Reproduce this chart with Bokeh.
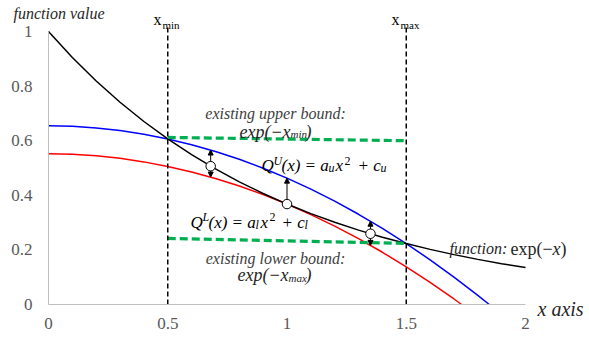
from bokeh.plotting import figure
from bokeh.models import Range1d, FixedTicker, Label, Arrow, NormalHead
from bokeh.embed import file_html
from bokeh.resources import INLINE

# ---------------- data ----------------
x_grid = [0.0, 0.1, 0.2, 0.3, 0.4, 0.5, 0.6, 0.7, 0.8, 0.9, 1.0,
          1.1, 1.2, 1.3, 1.4, 1.5, 1.6, 1.7, 1.8, 1.9, 2.0]
func_exp = [1.0, 0.9048, 0.8187, 0.7408, 0.6703, 0.6065, 0.5488, 0.4966, 0.4493, 0.4066, 0.3679,
            0.3329, 0.3012, 0.2725, 0.2466, 0.2231, 0.2019, 0.1827, 0.1653, 0.1496, 0.1353]

upper_q_x = [0.0, 0.1, 0.2, 0.3, 0.4, 0.5, 0.6, 0.7, 0.8, 0.9, 1.0,
             1.1, 1.2, 1.3, 1.4, 1.5, 1.6, 1.7, 1.8, 1.848]
upper_q_y = [0.6545, 0.6526, 0.6468, 0.6372, 0.6238, 0.6065, 0.5854, 0.5605, 0.5318, 0.4992, 0.4628,
             0.4225, 0.3784, 0.3305, 0.2787, 0.2231, 0.1637, 0.1004, 0.0334, 0.0]

lower_q_x = [0.0, 0.1, 0.2, 0.3, 0.4, 0.5, 0.6, 0.7, 0.8, 0.9, 1.0,
             1.1, 1.2, 1.3, 1.4, 1.5, 1.6, 1.7, 1.732]
lower_q_y = [0.5518, 0.5500, 0.5445, 0.5353, 0.5224, 0.5058, 0.4856, 0.4617, 0.4341, 0.4028, 0.3679,
             0.3293, 0.2870, 0.2410, 0.1913, 0.1380, 0.0809, 0.0202, 0.0]

bound_x = [0.5, 1.5]               # x_min, x_max
bound_line_top = 1.018
upper_bound_y = [0.612, 0.600]     # existing upper bound exp(-x_min)
lower_bound_y = [0.242, 0.224]     # existing lower bound exp(-x_max)

mark_x = [0.68, 1.0, 1.35]
mark_y = [0.5066, 0.3679, 0.2592]
arrow_up_y = [0.5658, 0.4628, 0.3051]
arrow_down_y = [0.4668, None, 0.2166]

x_ticks = [0, 0.5, 1, 1.5, 2]
x_tick_labels = ["0", "0.5", "1", "1.5", "2"]
y_ticks = [0, 0.2, 0.4, 0.6, 0.8, 1]
y_tick_labels = ["0", "0.2", "0.4", "0.6", "0.8", "1"]

# ---------------- figure ----------------
W, H = 589, 339
X0_PX, Y0_PX = 48, 304          # page position of the data origin
PX_PER_X = 238.5
PX_PER_Y = 273.0

p = figure(frame_width=W, frame_height=H,
           x_range=Range1d(-X0_PX / PX_PER_X, (W - X0_PX) / PX_PER_X),
           y_range=Range1d(-(H - Y0_PX) / PX_PER_Y, Y0_PX / PX_PER_Y),
           output_backend="svg", toolbar_location=None,
           min_border=0, min_border_left=0, min_border_right=0,
           min_border_top=0, min_border_bottom=0)
p.xgrid.visible = False
p.ygrid.visible = False
p.outline_line_color = None
p.background_fill_color = "white"
p.border_fill_color = "white"

SERIF = "Liberation Serif"
for ax in (p.xaxis[0], p.yaxis[0]):
    ax.fixed_location = 0
    ax.axis_line_color = "#bfbfbf"
    ax.axis_line_width = 1
    ax.major_tick_line_color = None
    ax.minor_tick_line_color = None
    ax.major_tick_out = 0
    ax.major_tick_in = 0
    ax.minor_tick_out = 0
    ax.minor_tick_in = 0
    ax.major_label_text_font = SERIF
    ax.major_label_text_font_size = "17px"
    ax.major_label_text_color = "#595959"

p.xaxis.ticker = FixedTicker(ticks=x_ticks)
p.xaxis.major_label_overrides = dict(zip(x_ticks, x_tick_labels))
p.xaxis.bounds = (x_ticks[0], x_ticks[-1])
p.xaxis.major_label_standoff = 13
p.yaxis.ticker = FixedTicker(ticks=y_ticks)
p.yaxis.major_label_overrides = dict(zip(y_ticks, y_tick_labels))
p.yaxis.bounds = (y_ticks[0], y_ticks[-1])
p.yaxis.major_label_standoff = 16

# curves
p.line(lower_q_x, lower_q_y, line_color="#ff0000", line_width=1.5)
p.line(upper_q_x, upper_q_y, line_color="#0000ff", line_width=1.5)
p.line(x_grid, func_exp, line_color="black", line_width=1.5)

# existing bounds
p.line(bound_x, upper_bound_y, line_color="#00b050", line_width=3.2, line_dash="8 4")
p.line(bound_x, lower_bound_y, line_color="#00b050", line_width=3.2, line_dash="8 4")

# x_min / x_max vertical dashed lines
p.segment(x0=bound_x, y0=[0, 0], x1=bound_x, y1=[bound_line_top] * 2,
          line_color="black", line_width=1.5, line_dash="5 3")

# arrows (start at the rim of the marker circle)
MARK_SIZE = 9.5
rim = (MARK_SIZE / 2) / PX_PER_Y
for xm, ym, yu, yd in zip(mark_x, mark_y, arrow_up_y, arrow_down_y):
    p.add_layout(Arrow(x_start=xm, y_start=ym + rim, x_end=xm, y_end=yu, line_color="black", line_width=1,
                       end=NormalHead(size=5, fill_color="black", line_color="black")))
    if yd is not None:
        p.add_layout(Arrow(x_start=xm, y_start=ym - rim, x_end=xm, y_end=yd, line_color="black", line_width=1,
                           end=NormalHead(size=5, fill_color="black", line_color="black")))

p.scatter(mark_x, mark_y, size=MARK_SIZE, fill_color="white", line_color="black", line_width=1)


# ---------------- texts ----------------
def lab(text, px, py, size, style="italic", align="left", color="#262626"):
    p.add_layout(Label(x=(px - X0_PX) / PX_PER_X, y=(Y0_PX - py) / PX_PER_Y, text=text,
                       text_font=SERIF, text_font_size=f"{size}px", text_font_style=style,
                       text_align=align, text_baseline="alphabetic", text_color=color))


lab("function value", 13, 13, 16)
lab("x axis", 537, 308, 20)

lab("x", 153, 19, 16, style="normal", color="black")
lab("min", 162, 24, 11, style="normal", color="black")
lab("x", 391, 19, 16, style="normal", color="black")
lab("max", 400, 24, 11, style="normal", color="black")

lab("existing upper bound:", 275, 112.7, 16, align="center", color="#404040")
lab("exp(\u2212x", 239, 131.7, 18, color="#262626")
lab("min", 290, 133.5, 11, color="#262626")
lab(")", 305, 131.7, 18, color="#262626")

lab("existing lower bound:", 275, 257.7, 16, align="center", color="#404040")
lab("exp(\u2212x", 237, 274.5, 18, color="#262626")
lab("max", 288, 277.5, 11, color="#262626")
lab(")", 305, 274.5, 18, color="#262626")

# Q^U(x) = a_u x^2 + c_u
lab("Q", 261, 165, 17, color="black")
lab("U", 273, 160.5, 12, color="black")
lab("(x) = a", 281, 165, 17, color="black")
lab("u", 328, 167.5, 12, color="black")
lab("x", 335, 165, 17, color="black")
lab("2", 344, 160.5, 12, style="normal", color="black")
lab("+ c", 357, 165, 17, color="black")
lab("u", 380, 167.5, 12, color="black")

# Q^L(x) = a_l x^2 + c_l
lab("Q", 190, 221.5, 17, color="black")
lab("L", 202, 216.5, 12, color="black")
lab("(x) = a", 208, 221.5, 17, color="black")
lab("l", 255, 224.5, 12, color="black")
lab("x", 260, 221.5, 17, color="black")
lab("2", 269, 216.5, 12, style="normal", color="black")
lab("+ c", 281, 221.5, 17, color="black")
lab("l", 304, 224.5, 12, color="black")

# function label
lab("function:", 449, 248.3, 16, color="#262626")
lab("exp(\u2212", 510, 248.3, 18, style="normal", color="#262626")
lab("x", 552, 248.3, 18, color="#262626")
lab(")", 560, 248.3, 18, style="normal", color="#262626")

open("out.html", "w").write(file_html(p, INLINE))
